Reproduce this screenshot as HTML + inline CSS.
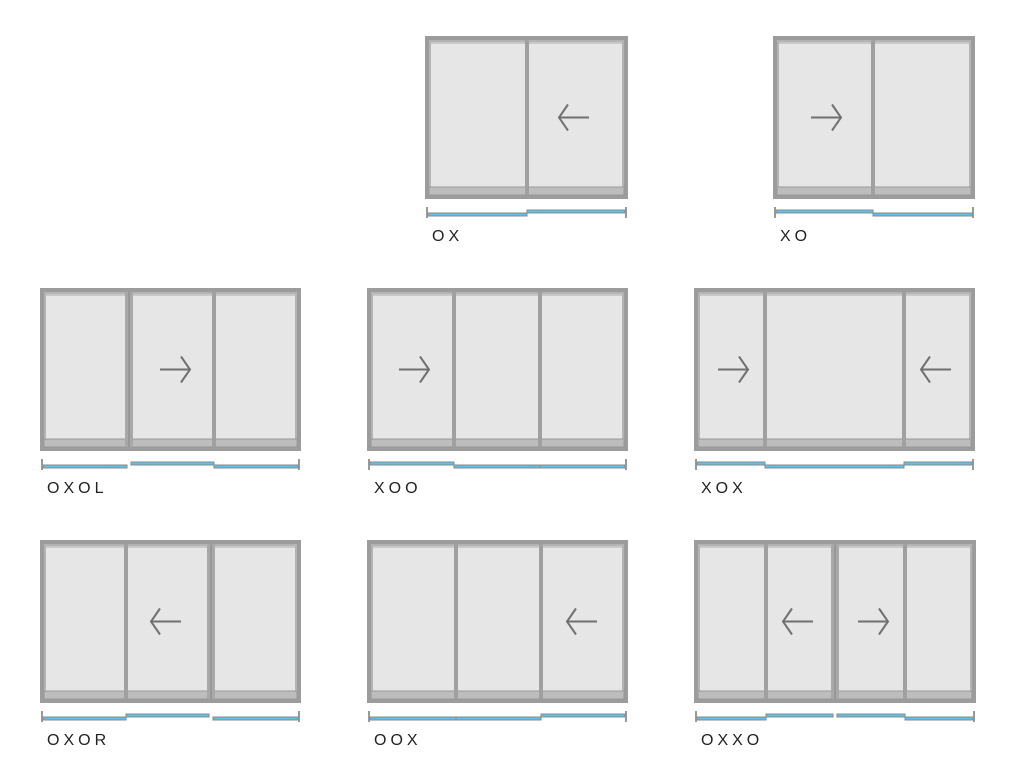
<!DOCTYPE html>
<html><head><meta charset="utf-8">
<style>
html,body{margin:0;padding:0;background:#fff;width:1024px;height:767px;overflow:hidden}
svg{position:absolute;left:0;top:0}
.lbl{font-family:"Liberation Sans",sans-serif;font-size:16px;fill:#222;letter-spacing:4px}
</style></head><body>
<svg id="s" width="1024" height="767" xmlns="http://www.w3.org/2000/svg">
<text class="lbl" x="432" y="241">OX</text>
<text class="lbl" x="780" y="241">XO</text>
<text class="lbl" x="47" y="493">OXOL</text>
<text class="lbl" x="374" y="493">XOO</text>
<text class="lbl" x="701" y="493">XOX</text>
<text class="lbl" x="47" y="745">OXOR</text>
<text class="lbl" x="374" y="745">OOX</text>
<text class="lbl" x="701" y="745">OXXO</text>
<g id="g"></g>
</svg>
<script>
var out='';
function R(x,y,w,h,f,s,sw){out+='<rect x="'+x+'" y="'+y+'" width="'+w+'" height="'+h+'" fill="'+f+'"'+(s?' stroke="'+s+'" stroke-width="'+(sw||1)+'"':'')+'/>';}
function L(x1,y1,x2,y2,c,w){out+='<line x1="'+x1+'" y1="'+y1+'" x2="'+x2+'" y2="'+y2+'" stroke="'+c+'" stroke-width="'+w+'"/>';}
function arrow(cx,cy,dir){
  var a=cx-15,b=cx+15;
  L(a,cy,b,cy,'#707070',2);
  var t=dir>0?b:a, k=dir>0?-9:9;
  out+='<polyline points="'+(t+k)+','+(cy-13)+' '+t+','+cy+' '+(t+k)+','+(cy+13)+'" fill="none" stroke="#707070" stroke-width="2"/>';
}
function door(x,y,w,h,divs,dbl,arrows,segs){
  var x2=x+w,y2=y+h;
  R(x,y,w,h,'#9c9c9c');
  R(x+4,y+4,w-8,h-8,'#b4b4b4');
  R(x+6,y+6,w-12,h-12,'#e6e6e6');
  R(x+4,y2-12,w-8,8,'#bdbdbd','#999',1);
  var edges=[x+4].concat(divs).concat([x2-4]);
  for(var i=0;i<divs.length;i++){
    var d=divs[i];
    if(dbl.indexOf(i)>=0){R(d-4,y+4,8,h-8,'#a8a8a8');L(d,y+4,d,y2-4,'#888',1);}
    else{R(d-2,y+4,4,h-8,'#a0a0a0');}
  }
  for(var i=0;i<edges.length-1;i++){
    L(edges[i]+2,y+7,edges[i+1]-2,y+7,'#aaa',1);
  }
  arrows.forEach(function(a){arrow(a[0],y+h/2,a[1]);});
  var ty=y2+11;
  R(x+1,ty-3,2,11,'#999');R(x2-3,ty-3,2,11,'#999');
  segs.forEach(function(s){
    var yy=s[2]?ty:ty+3;
    R(s[0],yy,s[1]-s[0],3,'#5bc3ea','#8a8a8a',1);
  });
}
door(425,36,203,163,[527],[],[[574,-1]],[[428,527,0],[527,625,1]]);
door(773,36,202,163,[873],[],[[826,1]],[[776,873,1],[873,972,0]]);
door(40,288,261,163,[129,214],[0],[[175,1]],[[43,127,0],[131,214,1],[214,298,0]]);
door(367,288,261,163,[454,540],[],[[414,1]],[[370,454,1],[454,540,0],[540,625,0]]);
door(694,288,281,163,[765,904],[],[[733,1],[936,-1]],[[697,765,1],[765,904,0],[904,972,1]]);
door(40,540,261,163,[126,211],[1],[[166,-1]],[[43,126,0],[126,209,1],[213,298,0]]);
door(367,540,261,163,[456,541],[],[[582,-1]],[[370,456,0],[456,541,0],[541,625,1]]);
door(694,540,282,163,[766,835,905],[1],[[798,-1],[873,1]],[[697,766,0],[766,833,1],[837,905,1],[905,973,0]]);
document.getElementById('g').innerHTML=out;
</script>
</body></html>
